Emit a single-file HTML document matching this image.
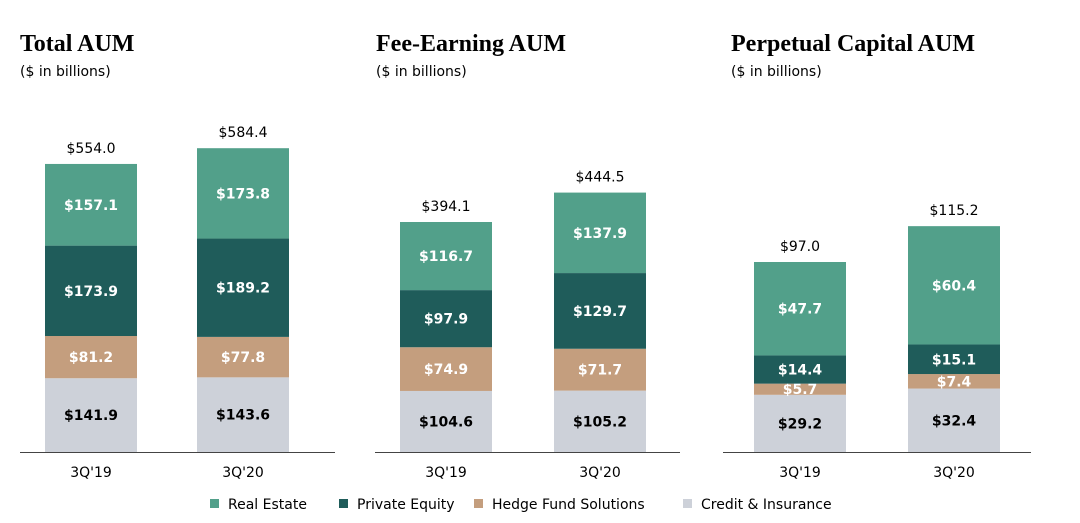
<!DOCTYPE html>
<html><head><meta charset="utf-8"><style>
body{margin:0;background:#fff;width:1080px;height:523px;overflow:hidden}
svg{display:block}
.t{font-family:"Liberation Serif",serif;font-weight:bold;font-size:24px;fill:#000}
.s{font-family:"DejaVu Sans",sans-serif;font-size:14px;fill:#000}
.v{font-family:"DejaVu Sans",sans-serif;font-size:14px;font-weight:bold}
</style></head><body>
<svg id="c" width="1080" height="523"></svg>
<script>
const categories=["3Q'19","3Q'20"];
const seriesNames=["Credit & Insurance","Hedge Fund Solutions","Private Equity","Real Estate"];
const colors=["#cdd1d9","#c49e7e","#1f5c5a","#52a08a"];
const textColors=["#000","#fff","#fff","#fff"];
const panelTitles=["Total AUM","Fee-Earning AUM","Perpetual Capital AUM"];
const totalCredit=[141.9,143.6],totalHedge=[81.2,77.8],totalPE=[173.9,189.2],totalRE=[157.1,173.8],totalSum=["$554.0","$584.4"];
const feeCredit=[104.6,105.2],feeHedge=[74.9,71.7],feePE=[97.9,129.7],feeRE=[116.7,137.9],feeSum=["$394.1","$444.5"];
const permCredit=[29.2,32.4],permHedge=[5.7,7.4],permPE=[14.4,15.1],permRE=[47.7,60.4],permSum=["$97.0","$115.2"];
const panels=[
 {tx:20,x0:20,x1:335,bars:[45,197],scale:288/554,series:[totalCredit,totalHedge,totalPE,totalRE],sums:totalSum},
 {tx:376,x0:375,x1:680,bars:[400,554],scale:230/394.1,series:[feeCredit,feeHedge,feePE,feeRE],sums:feeSum},
 {tx:731,x0:723,x1:1031,bars:[754,908],scale:190/97,series:[permCredit,permHedge,permPE,permRE],sums:permSum}];
const NS="http://www.w3.org/2000/svg",svg=document.getElementById('c');
function mk(tag,a,txt){const e=document.createElementNS(NS,tag);for(const k in a)e.setAttribute(k,a[k]);if(txt!=null)e.textContent=txt;svg.appendChild(e);return e;}
const base=452,bw=92;
panels.forEach((p,pi)=>{
 let e=mk('text',{x:p.tx,y:51,class:'t'},panelTitles[pi]);
 
 
 e=mk('text',{x:p.tx,y:76,class:'s'},'($ in billions)');
 
 
 categories.forEach((cat,ci)=>{
  let y=base;const x=p.bars[ci];
  p.series.forEach((arr,si)=>{
   const h=arr[ci]*p.scale;y-=h;
   e=mk('rect',{x:x,y:y,width:bw,height:h,fill:colors[si]});
   
   
   e=mk('text',{x:x+bw/2,y:y+h/2+5,class:'v','text-anchor':'middle',fill:textColors[si]},'$'+arr[ci].toFixed(1));
   
   
  });
  e=mk('text',{x:x+bw/2,y:y-11,class:'s','text-anchor':'middle'},p.sums[ci]);
  
  
  e=mk('text',{x:x+bw/2,y:477,class:'s','text-anchor':'middle'},cat);
  
  
 });
 e=mk('line',{x1:p.x0,x2:p.x1,y1:base+0.5,y2:base+0.5,stroke:'#444','stroke-width':1});
 
 
});
const legX=[210,339,474,683],legOrder=[3,2,1,0];
legOrder.forEach((si,i)=>{
 let e=mk('rect',{x:legX[i],y:499,width:9,height:9,fill:colors[si]});
 
 
 e=mk('text',{x:legX[i]+18,y:509,class:'s'},seriesNames[si]);
 
 
});
</script>
</body></html>
